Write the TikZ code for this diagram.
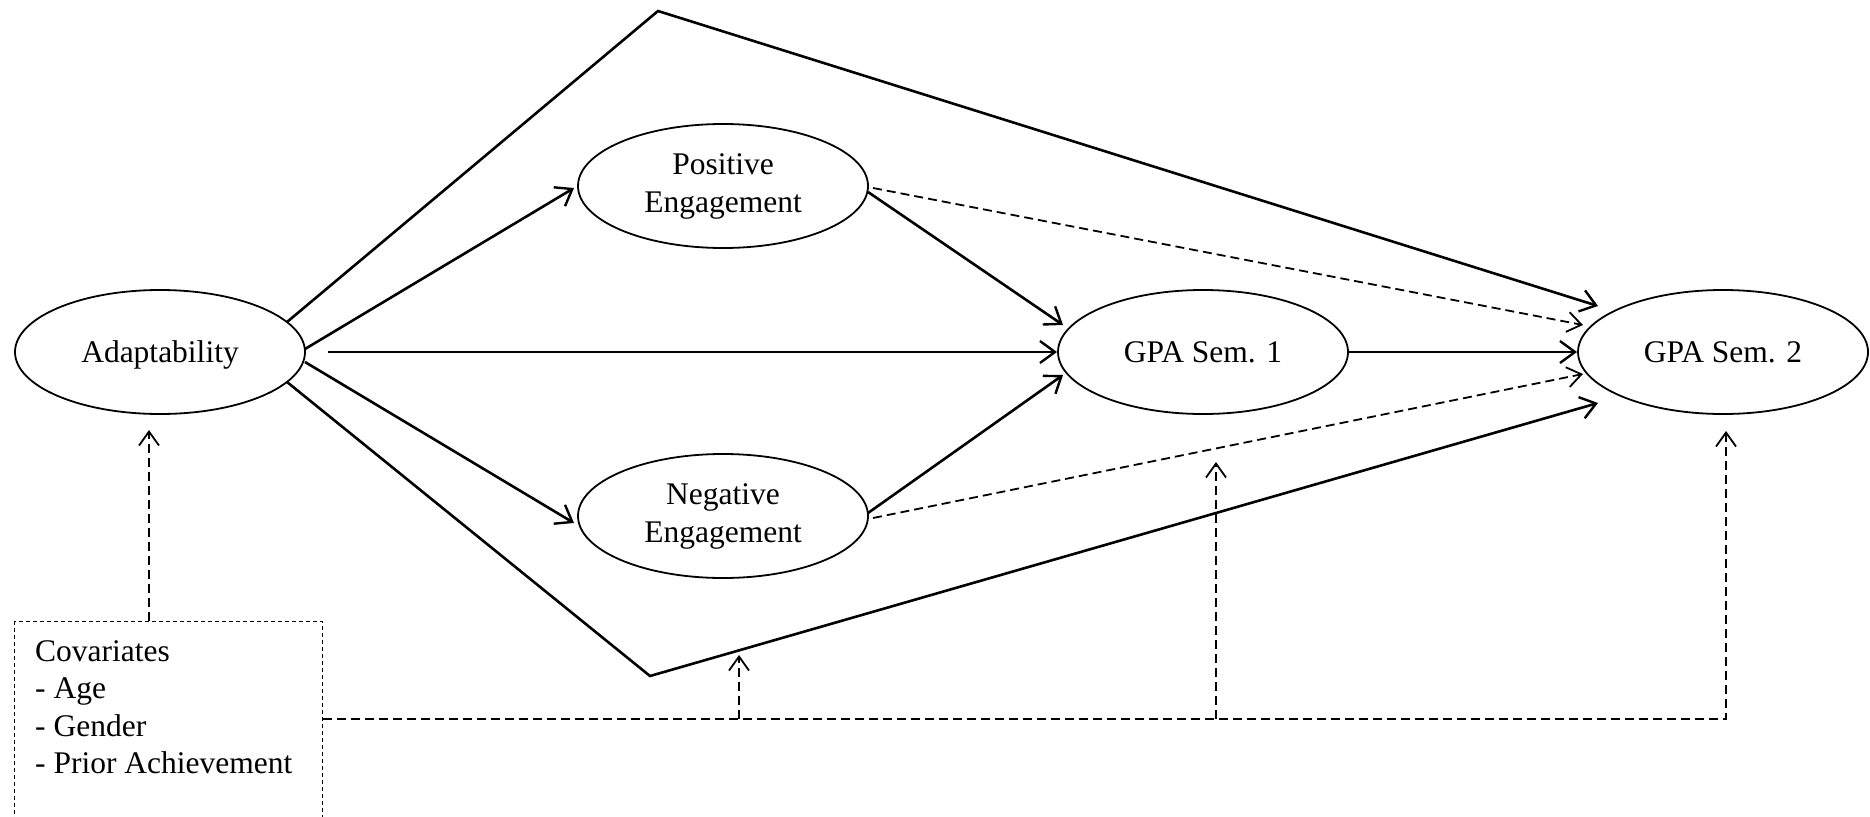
\documentclass[tikz,border=0pt]{standalone}
\usepackage{fontspec}
\setmainfont{Liberation Serif}
\usetikzlibrary{shapes.geometric,arrows.meta,calc}
\begin{document}
\begin{tikzpicture}[x=1pt,y=-1pt,
  var/.style={ellipse,draw,line width=1.8pt,minimum width=290pt,minimum height=124pt,inner sep=0pt,
    font=\fontsize{31.5}{38}\selectfont,align=center},
  causal/.style={line width=2.6pt,-{Straight Barb[length=15pt,width=22pt,line width=2.4pt]}},
  ctrl/.style={line width=1.8pt,dash pattern=on 9pt off 5pt,-{Straight Barb[length=14pt,width=20pt,line width=1.8pt]}},
  covline/.style={line width=1.8pt,dash pattern=on 8pt off 6pt},
  covbox/.style={draw,line width=1.2pt,dash pattern=on 4pt off 3pt,rectangle,minimum width=308pt,minimum height=260pt,anchor=north west,inner sep=0pt},
  covtext/.style={anchor=north west,align=left,inner sep=0pt,font=\fontsize{31.5}{37.5}\selectfont}
  ]
\useasboundingbox (0,0) rectangle (1870,816);

% variables
\node[var,text depth=0pt] (adapt) at (160,352) {Adaptability};
\node[var] (pos) at (723,186) {Positive\\Engagement};
\node[var] (neg) at (723,516) {Negative\\Engagement};
\node[var] (gpa1) at (1203,352) {GPA Sem. 1};
\node[var] (gpa2) at (1723,352) {GPA Sem. 2};

% covariates box
\node[covbox] (cov) at (14,621) {};
\node[covtext] (covt) at (35,640) {Covariates\\- Age\\- Gender\\- Prior Achievement};

% bend points
\coordinate (top) at (658,11);
\coordinate (bot) at (650,676);
\coordinate (j1) at (739,719);
\coordinate (j2) at (1216,719);
\coordinate (j3) at (1726,719);
\coordinate (j1tip) at (739,655);

% direct paths
\draw[causal] ($(adapt.center)+(127,-30)$) -- (top) -- ($(gpa2.center)+(-125,-46)$);
\draw[causal] ($(adapt.center)+(127,30)$) -- (bot) -- ($(gpa2.center)+(-125,51)$);
\draw[causal] ($(adapt.center)+(145,-3)$) -- ($(pos.center)+(-149,2)$);
\draw[causal] ($(adapt.center)+(145,10)$) -- ($(neg.center)+(-149,7)$);
\draw[causal] ($(adapt.center)+(168,0)$) -- ($(gpa1.center)+(-146,0)$);
\draw[causal] ($(pos.center)+(145,6)$) -- ($(gpa1.center)+(-140,-27)$);
\draw[causal] ($(neg.center)+(145,-3)$) -- ($(gpa1.center)+(-140,23)$);
\draw[causal] ($(gpa1.center)+(145,0)$) -- ($(gpa2.center)+(-146,0)$);

% dashed direct paths from engagement
\draw[ctrl] ($(pos.center)+(150,2)$) -- ($(gpa2.center)+(-140,-27)$);
\draw[ctrl] ($(neg.center)+(150,2)$) -- ($(gpa2.center)+(-140,22)$);

% covariate paths
\draw[ctrl] ($(cov.north west)+(135,0)$) -- ($(adapt.center)+(-11,78)$);
\draw[ctrl] ($(cov.north east)+(0,98)$) -- (j3) -- ($(gpa2.center)+(3,79)$);
\draw[ctrl] (j1) -- (j1tip);
\draw[ctrl] (j2) -- ($(gpa1.center)+(13,110)$);
\end{tikzpicture}
\end{document}
